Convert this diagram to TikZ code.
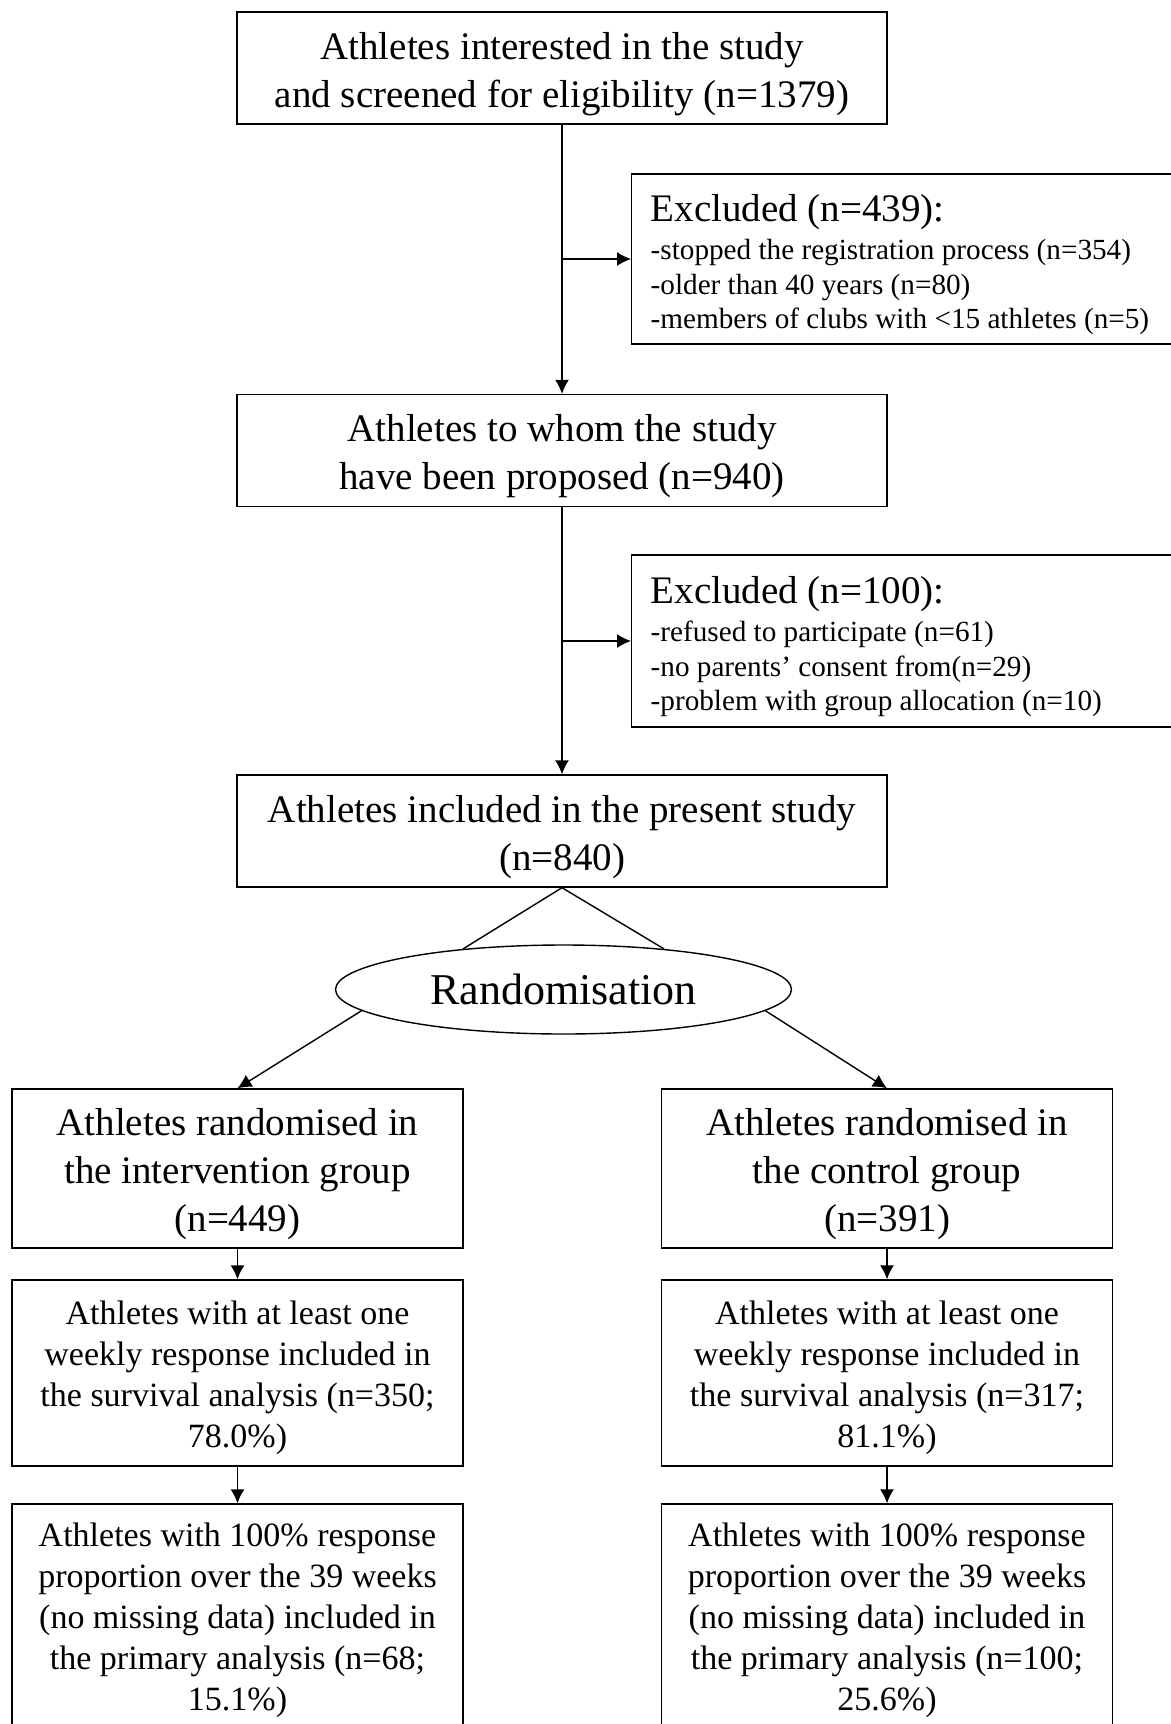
\documentclass[tikz,border=0pt]{standalone}
\usepackage{fontspec}
\setmainfont{Liberation Serif}
\usepackage{tikz}
\usetikzlibrary{calc}
\usetikzlibrary{positioning}
\usetikzlibrary{shapes.geometric}
\usetikzlibrary{arrows.meta}

\newcommand{\bigtxt}{\fontsize{19.5pt}{24pt}\selectfont}
\newcommand{\midtxt}{\fontsize{17pt}{20.5pt}\selectfont}
\newcommand{\smalltxt}{\fontsize{14.6pt}{17.2pt}\selectfont}

\tikzset{
    stage/.style={draw,line width=0.7pt,align=flush center,inner sep=0pt,font=\bigtxt,
        text width=325pt,minimum height=56pt,execute at begin node={\rule{0pt}{1em}}},
    excl/.style={draw,line width=0.7pt,align=flush left,anchor=west,inner ysep=0pt,inner xsep=9.5pt,
        text width=262pt,minimum height=85pt,font=\smalltxt,
        execute at begin node={\rule{0pt}{1.3em}}},
    arm/.style={draw,line width=0.7pt,align=flush center,inner sep=0pt,
        text width=225.5pt,execute at begin node={\rule{0pt}{1em}}},
}

\begin{document}
\begin{tikzpicture}[>={Latex[length=7pt,width=7pt]},x=0.5pt,y=-0.5pt,line width=0.7pt]
    \useasboundingbox (0,0) rectangle (1171,1724);
    % main line
    \node[stage] (screen) at (562,68) {Athletes interested in the study\\and screened for eligibility (n=1379)};
    \node[excl] (excl1) at (631,259) {{\bigtxt Excluded (n=439):}\\[2pt]
        -stopped the registration process (n=354)\\
        -older than 40 years (n=80)\\
        -members of clubs with <15 athletes (n=5)};
    \node[stage] (proposed) at (562,450.5) {Athletes to whom the study\\have been proposed (n=940)};
    \node[excl,minimum height=86pt] (excl2) at (631,641) {{\bigtxt Excluded (n=100):}\\[2pt]
        -refused to participate (n=61)\\
        -no parents’ consent from(n=29)\\
        -problem with group allocation (n=10)};
    \node[stage] (included) at (562,831) {Athletes included in the present study\\(n=840)};
    \node[draw,ellipse,inner sep=0pt,minimum width=228pt,minimum height=44.5pt,
        font=\fontsize{22pt}{26pt}\selectfont] (rand) at (563.5,989.5) {Randomisation};

    % the two arms
    \node[arm,minimum height=79.5pt,font=\bigtxt] (intv) at (237.5,1168.5)
        {Athletes randomised in\\the intervention group\\(n=449)};
    \node[arm,minimum height=79.5pt,font=\bigtxt] (ctrl) at (887,1168.5)
        {Athletes randomised in\\the control group\\(n=391)};
    \node[arm,minimum height=93pt,font=\midtxt] (intvsurv) at (237.5,1373)
        {Athletes with at least one\\weekly response included in\\the survival analysis (n=350;\\78.0\%)};
    \node[arm,minimum height=93pt,font=\midtxt] (ctrlsurv) at (887,1373)
        {Athletes with at least one\\weekly response included in\\the survival analysis (n=317;\\81.1\%)};
    \node[arm,minimum height=111pt,font=\midtxt] (intvprim) at (237.5,1615)
        {Athletes with 100\% response\\proportion over the 39 weeks\\(no missing data) included in\\the primary analysis (n=68;\\15.1\%)};
    \node[arm,minimum height=111pt,font=\midtxt] (ctrlprim) at (887,1615)
        {Athletes with 100\% response\\proportion over the 39 weeks\\(no missing data) included in\\the primary analysis (n=100;\\25.6\%)};

    % connectors
    \draw[->] (screen) -- (proposed);
    \draw[->] (screen.south |- excl1.west) -- (excl1.west);
    \draw[->] (proposed) -- (included);
    \draw[->] (proposed.south |- excl2.west) -- (excl2.west);
    \draw (included.south) -- (rand.158) (included.south) -- (rand.22);
    \draw[->] (rand.186) -- (intv.north);
    \draw[->] (rand.354) -- (ctrl.north);
    \draw[->] (intv) -- (intvsurv);
    \draw[->] (ctrl) -- (ctrlsurv);
    \draw[->] (intvsurv) -- (intvprim);
    \draw[->] (ctrlsurv) -- (ctrlprim);
\end{tikzpicture}
\end{document}
